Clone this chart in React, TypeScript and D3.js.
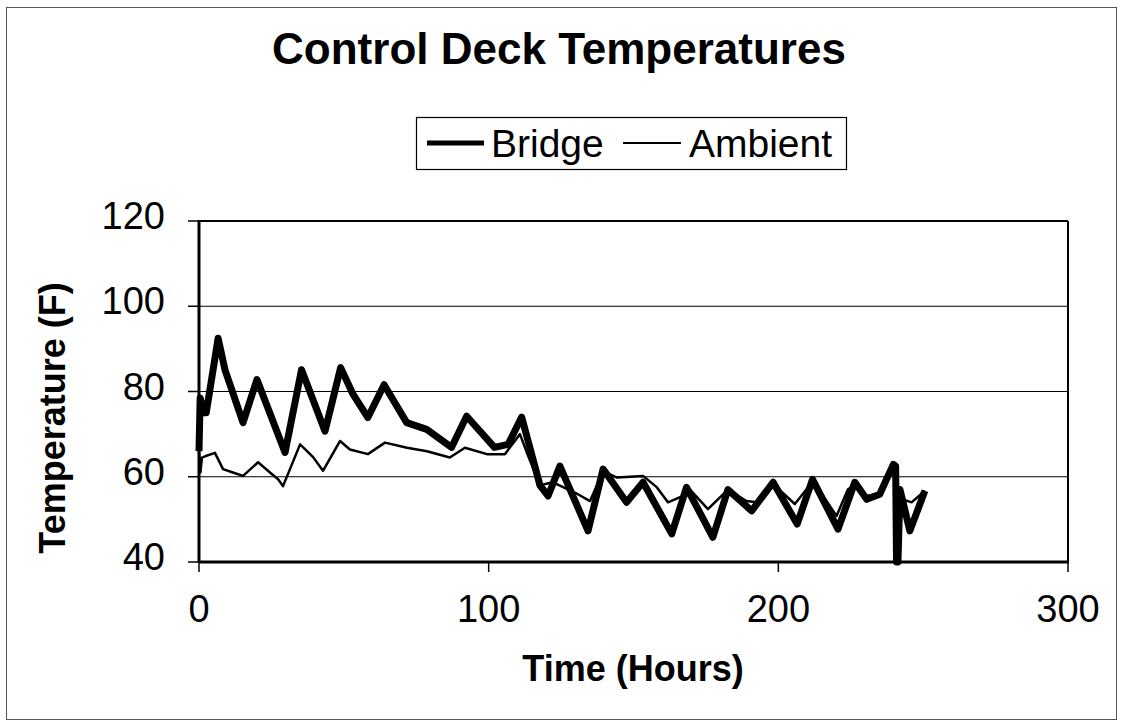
import React from "react";
import * as d3 from "d3";

const bridgeHours = [0, 0.4, 1.8, 2.5, 6.6, 9, 15.2, 20, 29.7, 35.4, 43.5, 48.9, 53.2, 58.3, 63.9, 71.7, 78.6, 87.2, 92.4, 102, 106.7, 111.4, 117.7, 120.5, 124.6, 134.3, 139.5, 147.6, 153.3, 163.2, 168.3, 177.4, 182.6, 190.8, 198.2, 206.5, 211.8, 220.6, 226.4, 230.5, 235, 239.7, 240.5, 240.8, 241.3, 242, 245.4, 250.6];
const bridgeTemps = [66, 78.5, 75, 75, 92.5, 85, 72.7, 82.8, 65.7, 85.1, 70.7, 85.6, 79.3, 73.9, 81.6, 72.7, 71.1, 66.9, 74.2, 66.9, 67.6, 74, 58, 55.5, 62.5, 47.3, 61.8, 54, 58.7, 46.6, 57.5, 45.8, 57, 52, 58.7, 48.9, 59.4, 47.7, 58.7, 54.7, 55.9, 62.9, 62.5, 40, 40, 57, 47.3, 56.7];

const ambientHours = [0, 0.5, 1, 2.1, 5.5, 8.3, 11.7, 15.2, 20.4, 24.5, 27.3, 29, 34.9, 39.4, 42.8, 48.7, 52.1, 58.3, 64.2, 71.8, 78.7, 86.6, 91.8, 99.4, 105.6, 110.8, 113, 117.7, 122.2, 130.8, 135, 139.5, 144.3, 153.3, 158.1, 161.9, 167.1, 169.5, 175.7, 182.6, 189, 192.5, 197.7, 205.7, 212, 220.1, 224, 226.4, 230.5, 235, 239.7, 241, 243, 246, 250.6];
const ambientTemps = [66, 61, 64.5, 64.8, 65.6, 61.8, 61, 60.2, 63.4, 61, 59.4, 57.8, 67.6, 64.6, 61.4, 68.4, 66.4, 65.3, 68, 66.8, 66, 64.5, 66.8, 65.3, 65.3, 70, 66, 58, 58.7, 55.9, 54.3, 61.3, 59.8, 60.2, 57.5, 54, 55.5, 57, 52.4, 57, 54.3, 54, 58.6, 53.6, 59, 50.8, 57, 58.2, 55.5, 56, 62, 58, 54.7, 54, 56.7];

const xTicks = [0, 100, 200, 300];
const yTicks = [40, 60, 80, 100, 120];
const gridValues = [60, 80, 100];
const seriesNames = ["Bridge", "Ambient"];

const FONT = "'Liberation Sans', Arial, Helvetica, sans-serif";

export default function App() {
  const x = d3.scaleLinear().domain([0, 300]).range([199, 1068]);
  const y = d3.scaleLinear().domain([40, 120]).range([562, 221]);

  const bridge = bridgeHours.map((h, i) => [h, bridgeTemps[i]] as [number, number]);
  const ambient = ambientHours.map((h, i) => [h, ambientTemps[i]] as [number, number]);

  const line = d3
    .line<[number, number]>()
    .x((d) => x(d[0]))
    .y((d) => y(d[1]));

  const [x0, x1] = x.range();
  const [yb, yt] = y.range();

  return (
    <svg
      width={1123}
      height={727}
      style={{ position: "absolute", left: 0, top: 0, background: "#fff" }}
      fontFamily={FONT}
    >
      <rect x={0} y={0} width={1123} height={727} fill="#fff" />
      {/* outer frame */}
      <rect x={6.5} y={7.5} width={1110} height={712} fill="none" stroke="#555" strokeWidth={1} />

      {/* title */}
      <text x={559} y={64} textAnchor="middle" fontSize={44} fontWeight="bold" fill="#000">
        Control Deck Temperatures
      </text>

      {/* legend */}
      <rect x={416.5} y={117.5} width={430} height={52} fill="#fff" stroke="#000" strokeWidth={1.2} />
      <line x1={427} x2={484} y1={143} y2={143} stroke="#000" strokeWidth={5} />
      <text x={491} y={157} fontSize={39} fill="#000">{seriesNames[0]}</text>
      <line x1={623} x2={681} y1={143} y2={143} stroke="#000" strokeWidth={2} />
      <text x={689} y={157} fontSize={39} fill="#000">{seriesNames[1]}</text>

      {/* gridlines */}
      {gridValues.map((v) => (
        <line key={v} x1={x0} x2={x1} y1={y(v)} y2={y(v)} stroke="#000" strokeWidth={1} />
      ))}

      {/* data lines */}
      <path d={line(ambient) || ""} fill="none" stroke="#000" strokeWidth={2.5} strokeLinejoin="round" />
      <path d={line(bridge) || ""} fill="none" stroke="#000" strokeWidth={7} strokeLinejoin="round" />

      {/* plot frame */}
      <line x1={x0} x2={x1} y1={yt} y2={yt} stroke="#000" strokeWidth={2} />
      <line x1={x1} x2={x1} y1={yt} y2={yb} stroke="#000" strokeWidth={2} />
      <line x1={x0} x2={x1 + 1} y1={yb} y2={yb} stroke="#000" strokeWidth={3} />
      <line x1={x0} x2={x0} y1={yt - 1} y2={yb + 1} stroke="#000" strokeWidth={3} />

      {/* y ticks */}
      {yTicks.map((v) => (
        <g key={v}>
          <line x1={x0 - 11} x2={x0} y1={y(v)} y2={y(v)} stroke="#000" strokeWidth={1.5} />
          <text x={165} y={y(v) + 8} textAnchor="end" fontSize={38} fill="#000">
            {v}
          </text>
        </g>
      ))}

      {/* x ticks */}
      {xTicks.map((v) => (
        <g key={v}>
          <line x1={x(v)} x2={x(v)} y1={yb} y2={yb + 10} stroke="#000" strokeWidth={1.5} />
          <text x={x(v)} y={622} textAnchor="middle" fontSize={38} fill="#000">
            {v}
          </text>
        </g>
      ))}

      {/* axis titles */}
      <text x={633} y={681} textAnchor="middle" fontSize={36} fontWeight="bold" fill="#000">
        Time (Hours)
      </text>
      <text
        transform={`translate(65, 418) rotate(-90)`}
        textAnchor="middle"
        fontSize={36}
        fontWeight="bold"
        fill="#000"
      >
        Temperature (F)
      </text>
    </svg>
  );
}
